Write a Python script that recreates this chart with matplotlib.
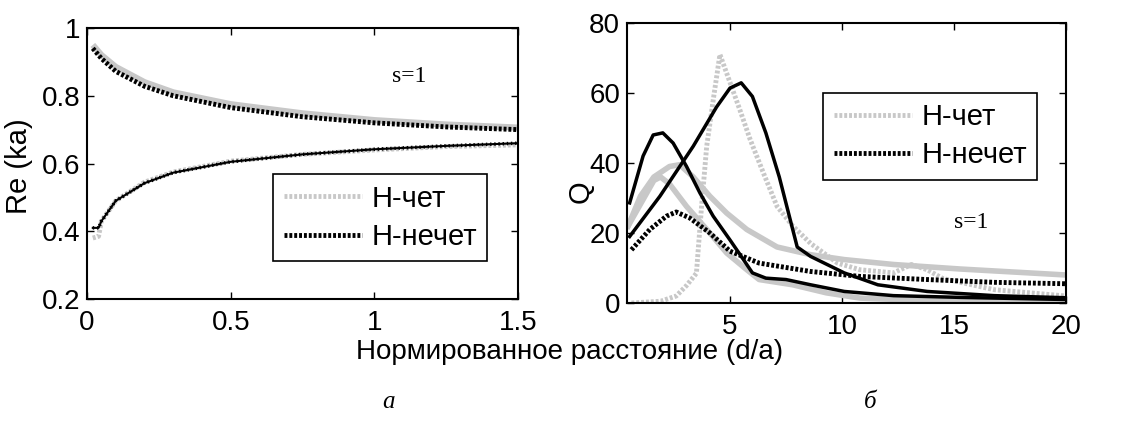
import matplotlib
matplotlib.use('Agg')
import matplotlib.pyplot as plt
import numpy as np

plt.rcParams['font.family'] = ['Liberation Sans', 'DejaVu Sans']

GRAY = '#c8c8c8'

# panel a: Re(ka) vs d/a
xa = [0.02, 0.05, 0.1, 0.2, 0.3, 0.5, 0.75, 1.0, 1.25, 1.5]
re_even_up = [0.95, 0.92, 0.885, 0.84, 0.81, 0.775, 0.748, 0.728, 0.715, 0.706]
re_odd_up = [0.94, 0.91, 0.872, 0.828, 0.8, 0.765, 0.738, 0.72, 0.708, 0.70]
xa_lo = [0.02, 0.04, 0.05, 0.1, 0.2, 0.3, 0.5, 0.75, 1.0, 1.25, 1.5]
re_even_lo = [0.38, 0.385, 0.43, 0.49, 0.545, 0.575, 0.607, 0.627, 0.64, 0.65, 0.655]
re_odd_lo = [0.41, 0.41, 0.43, 0.49, 0.542, 0.573, 0.605, 0.627, 0.642, 0.652, 0.66]

# panel b: Q vs d/a
xq1 = [0.6, 1.9, 2.6, 3.06, 3.5, 3.73, 3.96, 4.25, 4.55, 5.0, 5.45, 5.9, 6.5, 7.1, 7.8, 8.6, 9.8, 10.8, 12.3, 13.1, 13.8, 14.5, 16.8, 20]
q_even_dot = [0, 0.5, 2, 5, 8.5, 27.6, 44.8, 58, 71, 63, 55, 46.7, 37, 27.6, 22, 17, 11.4, 9.5, 8.6, 11, 9.5, 7, 3.8, 2]
xq2 = [0.45, 1.0, 1.6, 2.3, 2.75, 3.36, 4.1, 4.85, 5.75, 7.1, 8.6, 10.1, 12.3, 15.3, 20]
q_even_a = [22, 30.5, 36, 39, 39.5, 36, 30.5, 25.7, 21, 16, 13.8, 12.4, 11, 9.7, 8]
xq3 = [0.45, 1.6, 1.9, 2.3, 3.06, 4.1, 4.85, 5.75, 6.3, 7.8, 9.3, 10.8, 13.8, 20]
q_even_b = [22, 35, 36, 34, 27.6, 20, 14.3, 9.5, 6.7, 5.2, 2.9, 1.4, 0.7, 0.5]
xq4 = [0.52, 1.12, 1.57, 2.0, 2.46, 3.06, 3.66, 4.25, 5.0, 5.6, 6.0, 6.6, 7.5, 8.6, 10.1, 12.3, 15.3, 20]
q_odd_a = [28.6, 42, 48, 48.6, 45.7, 39, 31.4, 24.8, 18, 12.4, 8.6, 7.1, 6.7, 5.2, 3.3, 2.1, 1.6, 1.0]
xq5 = [0.52, 1.87, 3.36, 4.4, 5.0, 5.5, 6.0, 6.6, 7.2, 8.0, 8.6, 10.1, 11.6, 13.8, 16.8, 20]
q_odd_b = [19, 30.5, 44.8, 56, 61.4, 62.9, 59, 48.6, 36, 16, 13.3, 8.6, 5.2, 3.3, 2.1, 1.5]
xq6 = [0.6, 1.42, 2.16, 2.6, 3.2, 4.1, 5.0, 6.3, 8.6, 10.8, 13.8, 16.8, 20]
q_odd_dot = [15.2, 21, 24.8, 26, 24.3, 20, 14.8, 11.4, 9, 7.6, 6.7, 5.9, 5.5]

labels = ['Н-чет', 'Н-нечет']

DOT = (0, (0.6, 0.4))

fig = plt.figure(figsize=(11.35, 4.23), dpi=100)
ax1 = fig.add_axes([0.0767, 0.2931, 0.3797, 0.6407])
ax2 = fig.add_axes([0.5524, 0.2837, 0.3868, 0.662])

# panel a
ax1.plot(xa, re_even_up, color=GRAY, lw=4.5, solid_capstyle='butt')
ax1.plot(xa, re_odd_up, color='black', lw=3.5, linestyle=DOT)
ax1.plot(xa_lo, re_even_lo, color=GRAY, lw=3.5, linestyle=DOT)
ax1.plot(xa_lo, re_odd_lo, color='black', lw=1.5)
ax1.plot(xa_lo, re_odd_lo, color='black', lw=2.5, linestyle=(0, (0.4, 0.8)))
h1, = ax1.plot([], [], color=GRAY, lw=3.5, linestyle=DOT)
h2, = ax1.plot([], [], color='black', lw=3.5, linestyle=DOT)
ax1.set_xlim(0, 1.5)
ax1.set_ylim(0.2, 1.0)
ax1.set_xticks([0, 0.5, 1, 1.5])
ax1.set_xticklabels(['0', '0.5', '1', '1.5'])
ax1.set_yticks([0.2, 0.4, 0.6, 0.8, 1.0])
ax1.set_yticklabels(['0.2', '0.4', '0.6', '0.8', '1'])
ax1.set_ylabel('Re (ka)', fontsize=21)
ax1.yaxis.set_label_coords(-0.125, 0.49)
ax1.text(1.06, 0.84, 's=1', fontsize=17, family='Liberation Serif')
leg1 = ax1.legend([h1, h2], labels, loc='lower right', bbox_to_anchor=(0.928, 0.14),
                  fontsize=21, frameon=True, fancybox=False, edgecolor='black',
                  handlelength=2.7, handletextpad=0.3, borderpad=0.35,
                  labelspacing=0.35, framealpha=1, borderaxespad=0)
leg1.get_frame().set_linewidth(1.2)

# panel b
ax2.plot(xq1, q_even_dot, color=GRAY, lw=3.5, linestyle=DOT)
ax2.plot(xq2, q_even_a, color=GRAY, lw=4)
ax2.plot(xq3, q_even_b, color=GRAY, lw=4)
ax2.plot(xq6, q_odd_dot, color='black', lw=3.5, linestyle=DOT)
ax2.plot(xq4, q_odd_a, color='black', lw=2.5)
ax2.plot(xq5, q_odd_b, color='black', lw=2.5)
g1, = ax2.plot([], [], color=GRAY, lw=3.5, linestyle=DOT)
g2, = ax2.plot([], [], color='black', lw=3.5, linestyle=DOT)
ax2.set_xlim(0.4, 20)
ax2.set_ylim(0, 80)
ax2.set_xticks([5, 10, 15, 20])
ax2.set_yticks([0, 20, 40, 60, 80])
ax2.set_ylabel('Q', fontsize=21)
ax2.yaxis.set_label_coords(-0.073, 0.396)
ax2.text(15.0, 21.5, 's=1', fontsize=17, family='Liberation Serif')
leg2 = ax2.legend([g1, g2], labels, loc='upper right', bbox_to_anchor=(0.934, 0.75),
                  fontsize=21, frameon=True, fancybox=False, edgecolor='black',
                  handlelength=2.7, handletextpad=0.3, borderpad=0.35,
                  labelspacing=0.35, framealpha=1, borderaxespad=0)
leg2.get_frame().set_linewidth(1.2)

for ax in (ax1, ax2):
    ax.tick_params(direction='in', top=True, right=True, labelsize=20,
                   length=5, width=1)
    ax.tick_params(axis='x', pad=8)
    ax.tick_params(axis='y', pad=5)
    for s in ax.spines.values():
        s.set_linewidth(1.5)

fig.text(0.502, 0.168, 'Нормированное расстояние (d/a)', fontsize=20,
         ha='center', va='center')
fig.text(0.342, 0.05, 'а', fontsize=18, family='Liberation Serif',
         style='italic', ha='center', va='center')
fig.text(0.767, 0.05, 'б', fontsize=18, family='Liberation Serif',
         style='italic', ha='center', va='center')

fig.savefig('out.png', dpi=100)
